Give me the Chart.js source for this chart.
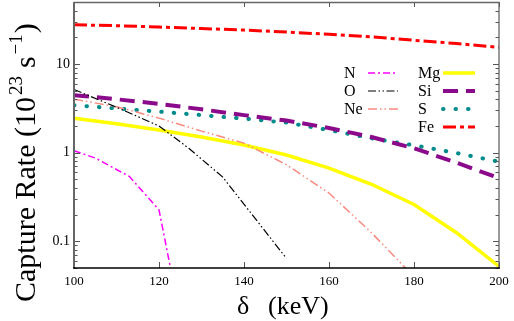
<!DOCTYPE html>
<html>
<head>
<meta charset="utf-8">
<script src="https://cdn.jsdelivr.net/npm/chart.js@4.4.0/dist/chart.umd.min.js"></script>
<style>
  html, body { margin: 0; padding: 0; background: #fff; }
  #wrap { width: 514px; height: 321px; }
</style>
</head>
<body>
<div id="wrap"><canvas id="myChart" width="514" height="321"></canvas></div>
<script>
// capture rate vs delta
const energies = [100, 110, 120, 130, 140, 150, 160, 170, 180, 190, 200];

const nX = [100, 105, 113, 120, 122.7];
const nRate = [1.05, 0.87, 0.54, 0.227, 0.05];

const oX = [100, 110, 120, 127, 135, 150];
const oRate = [5.16, 3.25, 2.0, 1.12, 0.53, 0.064];

const neX = [100, 110, 120, 130, 140, 150, 160, 170, 178];
const neRate = [4.0, 3.3, 2.45, 1.75, 1.28, 0.73, 0.35, 0.125, 0.05];

const mgRate = [2.44, 2.12, 1.80, 1.50, 1.22, 0.94, 0.67, 0.44, 0.26, 0.125, 0.052];
const siRate = [4.45, 4.0, 3.55, 3.08, 2.65, 2.3, 1.9, 1.5, 1.12, 0.77, 0.515];
const sRate = [3.43, 3.15, 2.9, 2.65, 2.42, 2.18, 1.8, 1.45, 1.21, 0.99, 0.79];
const feRate = [27.7, 27.0, 26.1, 25.1, 24.1, 22.9, 21.6, 20.2, 18.5, 17.0, 15.4];

const xTicks = [100, 120, 140, 160, 180, 200];
const yTicks = [0.1, 1, 10];

const serif = '"Liberation Serif", "DejaVu Serif", serif';

function pts(xs, ys) {
  return xs.map((v, i) => ({ x: v, y: ys[i] }));
}

function series(label, xs, ys, color, width, dash, col, row) {
  return {
    label: label,
    data: pts(xs, ys),
    borderColor: color,
    borderWidth: width,
    borderDash: dash,
    pointRadius: 0,
    tension: 0,
    fill: false,
    legendCol: col,
    legendRow: row
  };
}

const datasets = [
  series('N', nX, nRate, '#ff00ff', 1.5, [7, 3, 2, 3], 0, 0),
  series('O', oX, oRate, '#000000', 1.2, [8, 2.5, 1.5, 2.5, 1.5, 2.5], 0, 1),
  series('Ne', neX, neRate, '#fa8a80', 1.5, [9, 3, 1.5, 3, 1.5, 3], 0, 2),
  series('Mg', energies, mgRate, '#ffff00', 3.5, [], 1, 0),
  series('Si', energies, siRate, '#8b0a8b', 4, [15, 8], 1, 1),
  series('S', energies, sRate, '#008b8b', 4, [0.5, 12], 1, 2),
  series('Fe', energies, feRate, '#ff0000', 3, [13, 4, 4, 4], 1, 3)
];
datasets[5].borderCapStyle = 'round';

// frame, inward ticks, legend and axis titles
const decorations = {
  id: 'decorations',
  afterDraw(chart) {
    const { ctx, chartArea: a, scales: { x, y } } = chart;
    ctx.save();

    // ticks
    ctx.strokeStyle = '#555';
    ctx.lineWidth = 1;
    ctx.setLineDash([]);
    ctx.beginPath();
    xTicks.forEach(v => {
      const px = Math.round(x.getPixelForValue(v)) + 0.5;
      ctx.moveTo(px, a.bottom); ctx.lineTo(px, a.bottom - 6);
      ctx.moveTo(px, a.top); ctx.lineTo(px, a.top + 5);
    });
    for (let k = -2; k <= 1; k++) {
      for (let m = 1; m <= 9; m++) {
        const v = m * Math.pow(10, k);
        if (v < y.min || v > y.max) continue;
        const py = Math.round(y.getPixelForValue(v)) + 0.5;
        const len = m === 1 ? 6 : 3.5;
        ctx.moveTo(a.left, py); ctx.lineTo(a.left + len, py);
        ctx.moveTo(a.right, py); ctx.lineTo(a.right - len, py);
      }
    }
    ctx.stroke();

    // frame
    ctx.strokeStyle = '#666';
    ctx.lineWidth = 2;
    ctx.beginPath();
    ctx.moveTo(a.left, a.bottom); ctx.lineTo(a.left, a.top);
    ctx.stroke();
    ctx.lineWidth = 1.3;
    ctx.beginPath();
    ctx.moveTo(a.left, a.top + 0.5); ctx.lineTo(a.right, a.top + 0.5);
    ctx.lineTo(a.right, a.bottom);
    ctx.stroke();
    ctx.strokeStyle = '#000';
    ctx.lineWidth = 1.5;
    ctx.beginPath();
    ctx.moveTo(a.left - 1, a.bottom); ctx.lineTo(a.right + 1, a.bottom);
    ctx.stroke();

    // legend
    const colText = [344, 418];
    const colLine = [[368, 398], [443, 475]];
    ctx.font = '16px ' + serif;
    ctx.textBaseline = 'middle';
    ctx.textAlign = 'left';
    chart.data.datasets.forEach(ds => {
      const ly = 73 + ds.legendRow * 18;
      ctx.fillStyle = '#000';
      ctx.fillText(ds.label, colText[ds.legendCol], ly + 1);
      ctx.strokeStyle = ds.borderColor;
      ctx.lineWidth = ds.borderWidth;
      ctx.setLineDash(ds.borderDash);
      ctx.lineCap = ds.borderCapStyle || 'butt';
      ctx.beginPath();
      ctx.moveTo(colLine[ds.legendCol][0], ly);
      ctx.lineTo(colLine[ds.legendCol][1], ly);
      ctx.stroke();
    });
    ctx.setLineDash([]);
    ctx.lineCap = 'butt';

    // x title
    ctx.fillStyle = '#000';
    ctx.textBaseline = 'alphabetic';
    ctx.font = '26px ' + serif;
    ctx.fillText('\u03b4', 237, 314);
    ctx.fillText('(keV)', 268, 314);

    // y title, rotated, superscripts placed one after another
    ctx.translate(35, 302);
    ctx.rotate(-Math.PI / 2);
    const pieces = [
      ['Capture Rate (10', 30, 0, 0],
      ['23', 19, 2, -13],
      ['s', 30, 8, 0],
      ['\u22121', 19, 2, -13],
      [')', 30, 1, 0]
    ];
    let along = 0;
    pieces.forEach(p => {
      ctx.font = p[1] + 'px ' + serif;
      along += p[2];
      ctx.fillText(p[0], along, p[3]);
      along += ctx.measureText(p[0]).width;
    });

    ctx.restore();
  }
};

const ctx = document.getElementById('myChart').getContext('2d');
const myChart = new Chart(ctx, {
  type: 'line',
  data: { datasets: datasets },
  options: {
    responsive: false,
    animation: false,
    layout: { padding: { left: 0, right: 15, top: 2, bottom: 0 } },
    plugins: {
      legend: { display: false },
      tooltip: { enabled: false }
    },
    scales: {
      x: {
        type: 'linear',
        min: 100,
        max: 200,
        afterBuildTicks: scale => { scale.ticks = xTicks.map(v => ({ value: v })); },
        afterFit: scale => {
          scale.height = 53;
          scale.paddingLeft = 0;
          scale.paddingRight = 0;
        },
        grid: { display: false, drawTicks: false },
        border: { display: false },
        ticks: {
          color: '#000',
          padding: 6,
          maxRotation: 0,
          font: { family: serif, size: 13 }
        }
      },
      y: {
        type: 'logarithmic',
        min: 0.05,
        max: 50,
        afterBuildTicks: scale => { scale.ticks = yTicks.map(v => ({ value: v })); },
        afterFit: scale => {
          scale.width = 74;
          scale.paddingTop = 0;
          scale.paddingBottom = 0;
        },
        grid: { display: false, drawTicks: false },
        border: { display: false },
        ticks: {
          color: '#000',
          padding: 4,
          font: { family: serif, size: 14 },
          callback: v => String(v)
        }
      }
    }
  },
  plugins: [decorations]
});
</script>
</body>
</html>
